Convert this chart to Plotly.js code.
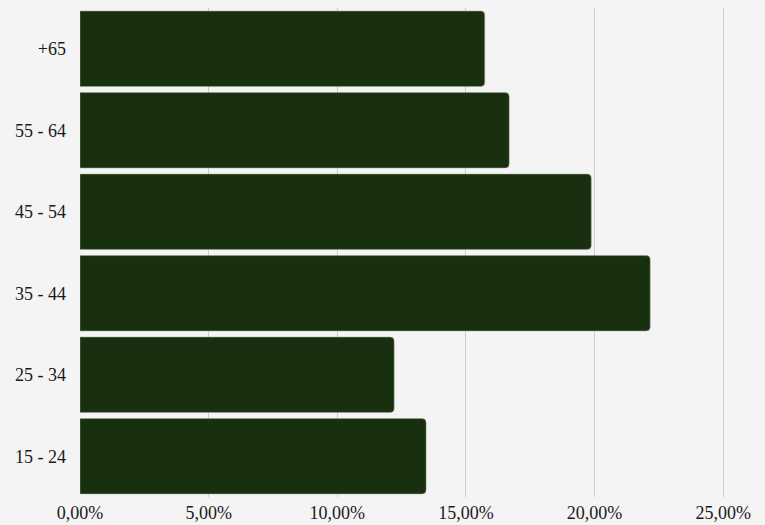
<!DOCTYPE html>
<html>
<head>
<meta charset="utf-8">
<script src="https://cdn.plot.ly/plotly-3.0.1.min.js"></script>
<style>html,body{margin:0;padding:0;background:#f4f4f4;}</style>
</head>
<body>
<div id="chart" style="width:765px;height:525px;"></div>
<script>
const categories = ["15 - 24", "25 - 34", "35 - 44", "45 - 54", "55 - 64", "+65"];
const shares = [0.1345, 0.1221, 0.2216, 0.1987, 0.1668, 0.1573];
const xTicks = [0, 0.05, 0.10, 0.15, 0.20, 0.25];

Plotly.newPlot("chart", [{
  type: "bar",
  orientation: "h",
  y: categories,
  x: shares,
  marker: {color: "#18300f", line: {color: "#9aa497", width: 0.5}, cornerradius: 4},
  hoverinfo: "none"
}], {
  width: 765, height: 525,
  paper_bgcolor: "#f4f4f4", plot_bgcolor: "#f4f4f4",
  separators: ",.",
  margin: {l: 80, r: 16, t: 8, b: 28},
  bargap: 0.075,
  font: {family: "Liberation Serif, serif", size: 18, color: "#1a1a1a"},
  xaxis: {
    range: [0, 0.26], tickvals: xTicks, tickformat: ".2%",
    showgrid: true, gridcolor: "#cccccc", gridwidth: 1,
    zeroline: false, showline: false, ticks: "", ticklen: 0,
    ticklabelstandoff: 3,
    tickfont: {size: 18, color: "#1a1a1a"}
  },
  yaxis: {
    showgrid: false, zeroline: false, showline: false,
    ticks: "", ticklabelstandoff: 13,
    tickfont: {size: 18, color: "#1a1a1a"}
  },
  showlegend: false
}, {displayModeBar: false, staticPlot: true});
</script>
</body>
</html>
